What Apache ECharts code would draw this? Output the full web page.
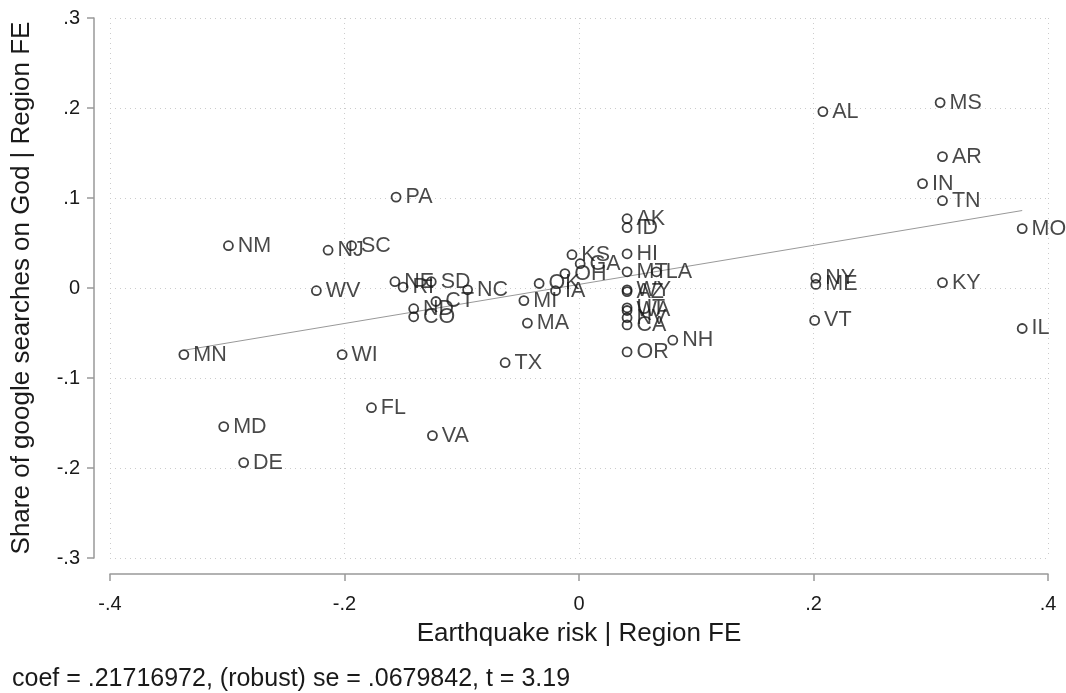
<!DOCTYPE html>
<html>
<head>
<meta charset="utf-8">
<script src="https://cdn.jsdelivr.net/npm/echarts@6/dist/echarts.min.js"></script>
<style>
html,body{margin:0;padding:0;background:#fff;}
#chart{width:1066px;height:693px;}
</style>
</head>
<body>
<div id="chart"></div>
<script>
const states = ["AL","MS","AR","IN","TN","MO","KY","IL","NY","ME","VT","NH","OR","AK","ID","HI","MT","LA","WY","AZ","UT","WA","NV","CA","KS","GA","OH","OK","IA","MI","MA","TX","VA","FL","MD","DE","MN","WI","WV","NM","NJ","SC","PA","NE","RI","SD","NC","CT","ND","CO"];
const xValues = [0.208,0.308,0.310,0.293,0.310,0.378,0.310,0.378,0.202,0.202,0.201,0.080,0.041,0.041,0.041,0.041,0.041,0.066,0.041,0.041,0.041,0.041,0.041,0.041,-0.006,0.001,-0.012,-0.034,-0.020,-0.047,-0.044,-0.063,-0.125,-0.177,-0.303,-0.286,-0.337,-0.202,-0.224,-0.299,-0.214,-0.194,-0.156,-0.157,-0.150,-0.126,-0.095,-0.122,-0.141,-0.141];
const yValues = [0.196,0.206,0.146,0.116,0.097,0.066,0.006,-0.045,0.011,0.004,-0.036,-0.058,-0.071,0.077,0.067,0.038,0.018,0.018,-0.002,-0.004,-0.022,-0.025,-0.033,-0.041,0.037,0.027,0.016,0.005,-0.003,-0.014,-0.039,-0.083,-0.164,-0.133,-0.154,-0.194,-0.074,-0.074,-0.003,0.047,0.042,0.047,0.101,0.007,0.001,0.007,-0.002,-0.015,-0.023,-0.032];
const xTickValues = [-0.4,-0.2,0,0.2,0.4];
const xTickLabels = ["-.4","-.2","0",".2",".4"];
const yTickValues = [-0.3,-0.2,-0.1,0,0.1,0.2,0.3];
const yTickLabels = ["-.3","-.2","-.1","0",".1",".2",".3"];
const fitCoef = 0.21716972;
const fitIntercept = 0.004;
const noteText = "coef = .21716972, (robust) se = .0679842, t = 3.19";

function lbl(values, labels){
  return function(v){
    for(let i=0;i<values.length;i++){ if(Math.abs(values[i]-v)<1e-9) return labels[i]; }
    return '';
  };
}
const pts = states.map((s,i)=>({name:s, value:[xValues[i], yValues[i]]}));
const xMin = Math.min(...xValues), xMax = Math.max(...xValues);
const fitLine = [[xMin, fitIntercept + fitCoef*xMin],[xMax, fitIntercept + fitCoef*xMax]];

const FONT = 'Liberation Sans, Arial, sans-serif';
const TXT = '#1a1a1a';
const chart = echarts.init(document.getElementById('chart'), null, {renderer:'canvas'});
chart.setOption({
  animation:false,
  backgroundColor:'#fff',
  grid:{left:110, right:18, top:18, bottom:135},
  xAxis:{
    type:'value', min:-0.4, max:0.4, interval:0.2, offset:16,
    name:'Earthquake risk | Region FE', nameLocation:'middle', nameGap:47,
    nameTextStyle:{fontFamily:FONT, fontSize:26, color:TXT},
    axisLine:{show:true, onZero:false, lineStyle:{color:'#999', width:1.5}},
    axisTick:{show:true, length:7, lineStyle:{color:'#999', width:1.5}},
    axisLabel:{formatter:lbl(xTickValues,xTickLabels), fontFamily:FONT, fontSize:20, color:TXT, margin:20},
    splitLine:{show:true, lineStyle:{color:'#ccc', type:[1,4], width:1}}
  },
  yAxis:{
    type:'value', min:-0.3, max:0.3, interval:0.1, offset:16,
    name:'Share of google searches on God | Region FE', nameLocation:'middle', nameGap:59,
    nameTextStyle:{fontFamily:FONT, fontSize:26, color:TXT},
    axisLine:{show:true, onZero:false, lineStyle:{color:'#999', width:1.5}},
    axisTick:{show:true, length:7, lineStyle:{color:'#999', width:1.5}},
    axisLabel:{formatter:lbl(yTickValues,yTickLabels), fontFamily:FONT, fontSize:20, color:TXT, margin:14},
    splitLine:{show:true, lineStyle:{color:'#ccc', type:[1,4], width:1}}
  },
  series:[
    {
      type:'line', data:fitLine, symbol:'none', silent:true,
      lineStyle:{color:'#999', width:1}, z:1
    },
    {
      type:'scatter', data:pts, symbol:'circle', symbolSize:9, z:3,
      itemStyle:{color:'rgba(255,255,255,0)', borderColor:'#111', borderWidth:1.8},
      label:{show:true, position:'right', distance:4, formatter:'{b}', fontFamily:FONT, fontSize:21.5, color:TXT}
    }
  ],
  graphic:[
    {type:'text', left:12, top:667, style:{text:noteText, font:'25px '+FONT, fill:TXT}}
  ]
});
</script>
</body>
</html>
